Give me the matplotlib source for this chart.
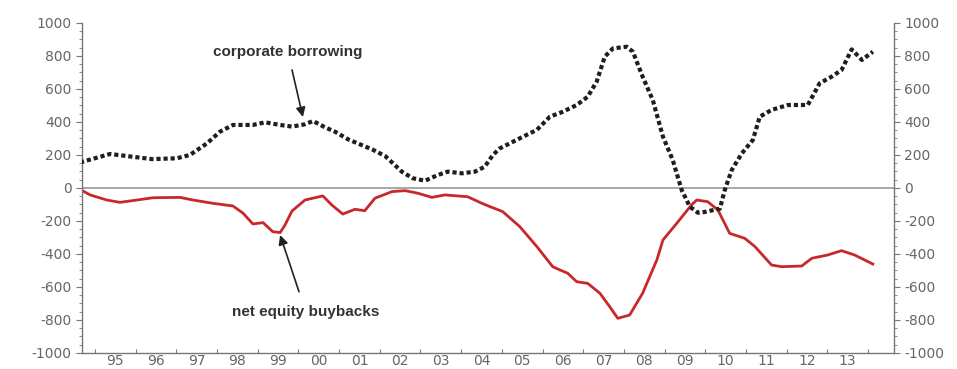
import matplotlib.pyplot as plt
from matplotlib.ticker import MultipleLocator, NullFormatter, FixedLocator, FixedFormatter

plt.rcParams['axes.unicode_minus'] = False

# decimal years
borrow_x = [1994.63, 1995.37, 1996.40, 1997.01, 1997.33, 1997.75, 1998.07, 1998.39,
            1998.88, 1999.18, 1999.55, 1999.84, 2000.16, 2000.36, 2000.65, 2000.90,
            2001.22, 2001.46, 2001.81, 2002.13, 2002.37, 2002.54, 2002.81, 2003.11,
            2003.43, 2003.67, 2004.02, 2004.34, 2004.58, 2004.78, 2004.95, 2005.20,
            2005.52, 2005.86, 2006.18, 2006.50, 2006.84, 2007.11, 2007.33, 2007.53,
            2007.73, 2008.07, 2008.22, 2008.46, 2008.71, 2008.96, 2009.20, 2009.42,
            2009.62, 2009.82, 2009.99, 2010.36, 2010.48, 2010.65, 2010.90, 2011.17,
            2011.34, 2011.63, 2012.03, 2012.52, 2012.81, 2013.11, 2013.35, 2013.60,
            2013.85, 2014.12]
borrow_y = [155, 206, 175, 180, 200, 270, 341, 382,
            382, 398, 382, 372, 386, 406, 368, 341,
            295, 270, 234, 194, 139, 99, 59, 44,
            79, 99, 89, 99, 129, 200, 240, 271,
            311, 352, 432, 462, 503, 553, 644, 796,
            846, 856, 826, 675, 533, 311, 170, -12,
            -113, -150, -145, -125, -12, 109, 210, 291,
            432, 473, 503, 503, 634, 675, 715, 840,
            776, 826]

buyback_x = [1994.68, 1994.88, 1995.29, 1995.61, 1996.03, 1996.43, 1997.09, 1997.41,
             1997.90, 1998.39, 1998.64, 1998.88, 1999.13, 1999.37, 1999.55, 1999.67,
             1999.84, 2000.16, 2000.60, 2000.82, 2001.09, 2001.39, 2001.63, 2001.88,
             2002.30, 2002.62, 2002.94, 2003.28, 2003.60, 2004.16, 2004.51, 2004.78,
             2005.02, 2005.44, 2005.86, 2006.25, 2006.43, 2006.62, 2006.84, 2007.11,
             2007.41, 2007.65, 2007.85, 2008.14, 2008.46, 2008.81, 2008.96, 2009.30,
             2009.66, 2009.79, 2010.06, 2010.31, 2010.60, 2010.97, 2011.22, 2011.63,
             2011.88, 2012.37, 2012.62, 2013.01, 2013.35, 2013.67, 2014.12]
buyback_y = [-15, -42, -73, -87, -73, -59, -57, -73,
             -93, -109, -153, -218, -210, -265, -270, -224,
             -140, -73, -48, -103, -158, -129, -138, -62,
             -22, -16, -32, -57, -42, -53, -93, -120,
             -143, -234, -355, -477, -497, -517, -568, -578,
             -638, -719, -790, -770, -638, -436, -315, -214,
             -103, -73, -83, -133, -275, -305, -355, -467,
             -477, -473, -426, -406, -380, -406, -461]

years = list(range(1995, 2014))
year_labels = ['%02d' % (y % 100) for y in years]
y_ticks = list(range(-1000, 1001, 200))

fig = plt.figure(figsize=(9.57, 3.69), dpi=100)
ax = fig.add_axes([0.0857, 0.0434, 0.8485, 0.8943])

ax.axhline(0, color='#a0a0a0', lw=1.3, zorder=1)
ax.plot(buyback_x, buyback_y, color='#c8282c', lw=2.0, zorder=2)
ax.plot(borrow_x, borrow_y, color='#1e1e1e', lw=3.0, ls=(0, (1.0, 0.7)), zorder=3)

ax.set_xlim(1994.68, 2014.64)
ax.set_ylim(-1000, 1000)

ax.spines['top'].set_visible(False)
for s in ['left', 'right', 'bottom']:
    ax.spines[s].set_color('#777777')
    ax.spines[s].set_linewidth(1.0)

ax.yaxis.set_major_locator(FixedLocator(y_ticks))
ax.yaxis.set_minor_locator(MultipleLocator(50))
ax.tick_params(axis='y', which='both', left=True, right=True, labelleft=True,
               labelright=True, direction='out', colors='#777777',
               labelcolor='#666666', labelsize=10)
ax.tick_params(axis='y', which='major', length=4)
ax.tick_params(axis='y', which='minor', length=2)

# year boundaries as small ticks, labels centred in each year
ax.xaxis.set_major_locator(FixedLocator(years + [2014]))
ax.xaxis.set_major_formatter(NullFormatter())
ax.xaxis.set_minor_locator(FixedLocator([y + 0.5 for y in years]))
ax.xaxis.set_minor_formatter(FixedFormatter(year_labels))
ax.tick_params(axis='x', which='major', direction='in', length=3, colors='#777777')
ax.tick_params(axis='x', which='minor', length=0, labelcolor='#666666',
               labelsize=10, pad=1)

for lab in ax.get_yticklabels() + ax.get_xticklabels(minor=True):
    lab.set_family('DejaVu Sans')

ax.annotate('corporate borrowing', xy=(2000.11, 430), xytext=(1999.74, 824),
            ha='center', va='center', fontsize=11, fontweight='bold',
            family='Liberation Sans', color='#333333',
            arrowprops=dict(arrowstyle='-|>', color='#222222', lw=1.2,
                            mutation_scale=14, shrinkA=6, shrinkB=0))
ax.annotate('net equity buybacks', xy=(1999.55, -285), xytext=(2000.18, -752),
            ha='center', va='center', fontsize=11, fontweight='bold',
            family='Liberation Sans', color='#333333',
            arrowprops=dict(arrowstyle='-|>', color='#222222', lw=1.2,
                            mutation_scale=14, shrinkA=8, shrinkB=0))

fig.savefig('out.png', dpi=100)
